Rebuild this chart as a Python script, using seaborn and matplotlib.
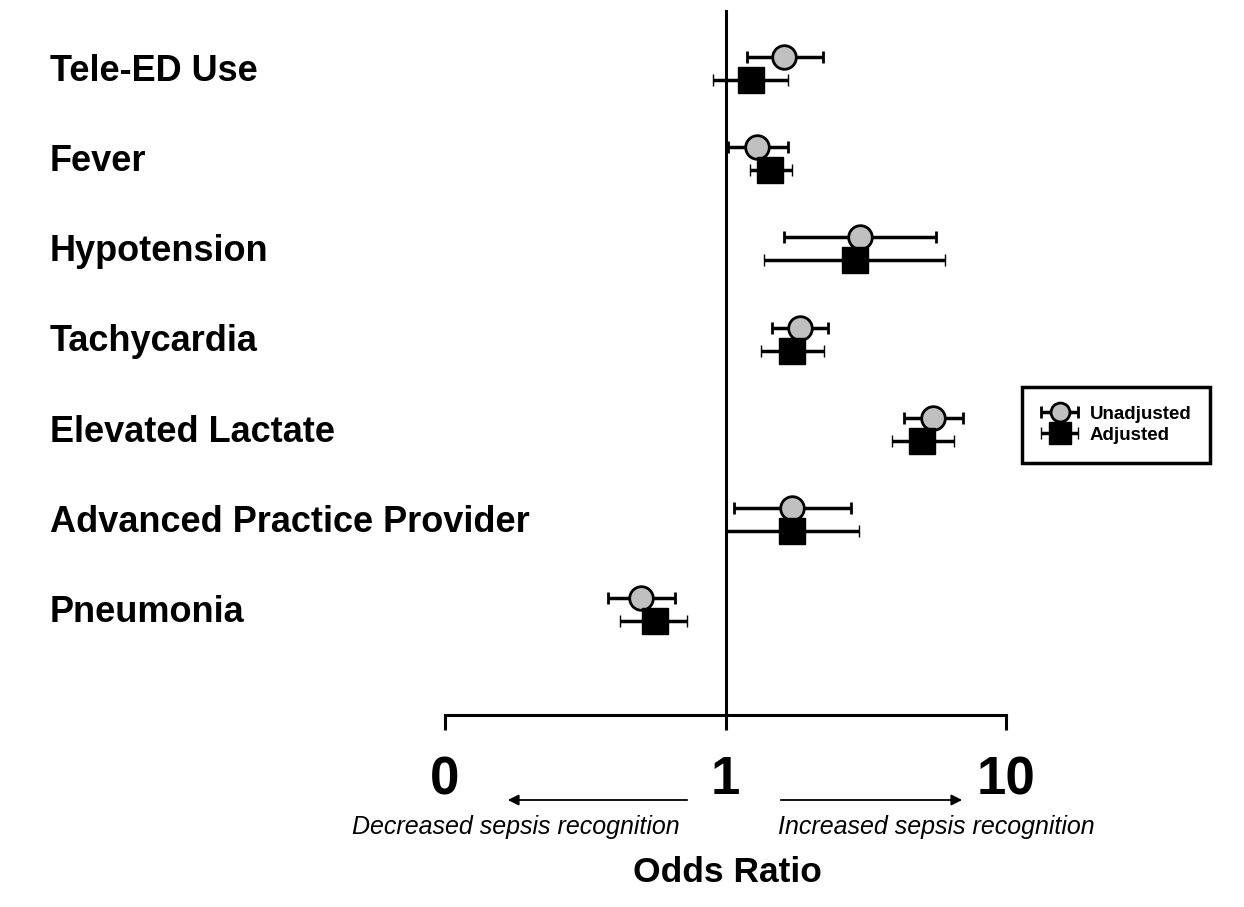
import numpy as np
import pandas as pd
import seaborn as sns
import matplotlib.pyplot as plt
from matplotlib.container import ErrorbarContainer
from matplotlib.legend_handler import HandlerErrorbar
from matplotlib.ticker import NullLocator
from matplotlib.transforms import blended_transform_factory

# odds ratios, log x axis
categories = ["Tele-ED Use", "Fever", "Hypotension", "Tachycardia",
              "Elevated Lactate", "Advanced Practice Provider", "Pneumonia"]
or_unadj = [1.62, 1.30, 3.01, 1.84, 5.50, 1.73, 0.50]
lo_unadj = [1.19, 1.02, 1.61, 1.47, 4.32, 1.07, 0.38]
hi_unadj = [2.23, 1.67, 5.61, 2.32, 7.04, 2.81, 0.66]
or_adj = [1.23, 1.44, 2.89, 1.73, 5.02, 1.73, 0.56]
lo_adj = [0.90, 1.22, 1.37, 1.34, 3.91, 1.00, 0.42]
hi_adj = [1.67, 1.72, 6.07, 2.24, 6.52, 2.99, 0.73]
tick_vals = [0.1, 1, 10]
tick_labels = ["0", "1", "10"]

df = pd.DataFrame({"cat": categories,
                   "or_u": or_unadj, "lo_u": lo_unadj, "hi_u": hi_unadj,
                   "or_a": or_adj, "lo_a": lo_adj, "hi_a": hi_adj})
df["y"] = np.arange(len(df))

sns.set_theme(style="white")
plt.rcParams['font.family'] = ['Liberation Sans', 'DejaVu Sans']

fig = plt.figure(figsize=(12.44, 9.07), dpi=100)
ax = fig.add_axes([445 / 1244, 1 - 715 / 907, (1006 - 445) / 1244, (715 - 10) / 907])
ax.set_xscale('log')

ax.axvline(1, color='black', lw=2.2, zorder=1)

ax.errorbar(df["or_u"], df["y"] - 0.127,
            xerr=[df["or_u"] - df["lo_u"], df["hi_u"] - df["or_u"]],
            fmt='o', ms=17, mfc='#c0c0c0', mec='black', mew=2,
            ecolor='black', elinewidth=2.5, capsize=4.5, capthick=2.5,
            label='Unadjusted', zorder=3)
ax.errorbar(df["or_a"], df["y"] + 0.127,
            xerr=[df["or_a"] - df["lo_a"], df["hi_a"] - df["or_a"]],
            fmt='s', ms=19, mfc='black', mec='black', mew=1,
            ecolor='black', elinewidth=2.5, capsize=4.5, capthick=2.5,
            label='Adjusted', zorder=4)

ax.set_xlim(0.1, 10)
ax.set_ylim(7.167, -0.649)
ax.set_yticks([])
ax.set_xticks(tick_vals)
ax.set_xticklabels(tick_labels, fontsize=38, fontweight='bold')
ax.xaxis.set_minor_locator(NullLocator())
ax.tick_params(axis='x', direction='out', bottom=True, length=11, width=2.2,
               pad=18, colors='black')
sns.despine(ax=ax, left=True)
ax.spines['bottom'].set_bounds(0.1, 10)
ax.spines['bottom'].set_linewidth(2.2)
ax.spines['bottom'].set_color('black')

# row labels on the left
trans = blended_transform_factory(fig.transFigure, ax.transData)
for i, c in enumerate(categories):
    ax.text(50 / 1244, i + 0.03, c, transform=trans, ha='left', va='center',
            fontsize=26, fontweight='bold', color='black')

# arrows + captions under the axis
ax.annotate('', xy=(505 / 1244, 1 - 800 / 907), xycoords='figure fraction',
            xytext=(690 / 1244, 1 - 800 / 907),
            arrowprops=dict(arrowstyle='-|>', color='black', lw=1.3, mutation_scale=16))
ax.annotate('', xy=(965 / 1244, 1 - 800 / 907), xycoords='figure fraction',
            xytext=(778 / 1244, 1 - 800 / 907),
            arrowprops=dict(arrowstyle='-|>', color='black', lw=1.3, mutation_scale=16))
fig.text(516 / 1244, 1 - 827 / 907, "Decreased sepsis recognition", ha='center', va='center',
         style='italic', fontsize=18, color='black')
fig.text(936 / 1244, 1 - 827 / 907, "Increased sepsis recognition", ha='center', va='center',
         style='italic', fontsize=18, color='black')
fig.text(727 / 1244, 1 - 873 / 907, "Odds Ratio", ha='center', va='center',
         fontsize=25.5, fontweight='bold', color='black')

leg = fig.legend(loc='upper left', bbox_to_anchor=(1022 / 1244, 1 - 387 / 907),
                 borderaxespad=0, frameon=True, fancybox=False, edgecolor='black',
                 framealpha=1, labelcolor='black',
                 prop={'weight': 'bold', 'size': 13.5}, markerscale=0.8,
                 handlelength=2.0, handletextpad=0.6, borderpad=1.0, labelspacing=0.2,
                 handler_map={ErrorbarContainer: HandlerErrorbar(xerr_size=0.98)})
leg.get_frame().set_linewidth(2.5)

fig.savefig("out.png", dpi=100)
